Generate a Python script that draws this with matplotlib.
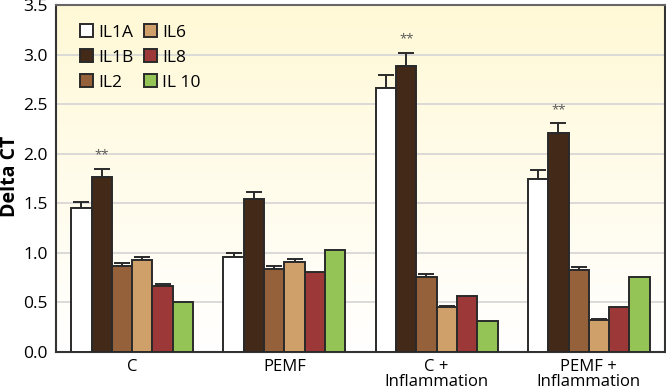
import numpy as np
import matplotlib.pyplot as plt

groups = ['C', 'PEMF', 'C +\nInflammation', 'PEMF +\nInflammation']
genes = ['IL1A', 'IL1B', 'IL2', 'IL6', 'IL8', 'IL 10']
colors = ['#FFFFFF', '#432918', '#94613A', '#CFA06A', '#9C3838', '#93C455']

# delta CT per gene, one value per group
il1a = [1.45, 0.96, 2.66, 1.75]
il1b = [1.77, 1.54, 2.88, 2.21]
il2 = [0.87, 0.84, 0.76, 0.83]
il6 = [0.93, 0.91, 0.45, 0.32]
il8 = [0.67, 0.81, 0.56, 0.45]
il10 = [0.50, 1.03, 0.31, 0.76]

il1a_err = [0.06, 0.04, 0.13, 0.09]
il1b_err = [0.08, 0.07, 0.14, 0.10]
il2_err = [0.03, 0.03, 0.03, 0.03]
il6_err = [0.03, 0.03, 0.01, 0.01]
il8_err = [0.02, 0.0, 0.0, 0.0]
il10_err = [0.0, 0.0, 0.0, 0.0]

# '**' marks on IL1B
signif = ['**', '', '**', '**']

values = [il1a, il1b, il2, il6, il8, il10]
errors = [il1a_err, il1b_err, il2_err, il6_err, il8_err, il10_err]

plt.rcParams['font.family'] = ['Open Sans', 'DejaVu Sans']

fig = plt.figure(figsize=(6.66, 3.92), dpi=100)
ax = fig.add_axes([56 / 666, 40 / 392, 609 / 666, 347 / 392])

x = np.arange(len(groups))
width = 0.8 / len(genes)

# yellow-to-white background gradient
grad = np.linspace(0, 1, 256).reshape(-1, 1)
top = np.array([1.0, 0.976, 0.84])
bot = np.array([1.0, 1.0, 1.0])
img = top * grad + bot * (1 - grad)
ax.imshow(img[:, None, :].repeat(2, axis=1), extent=[-0.5, 3.5, 0, 3.5],
          aspect='auto', origin='lower', zorder=0)

for v in np.arange(0.5, 3.5, 0.5):
    ax.axhline(v, color='#D4D4D4', lw=1.2, zorder=1)

for i, (gene, vals, errs) in enumerate(zip(genes, values, errors)):
    pos = x - 0.4 + width * (i + 0.5)
    ax.bar(pos, vals, width, color=colors[i], edgecolor='#2A2A2A', lw=1.4,
           label=gene, zorder=3)
    for p, v, e in zip(pos, vals, errs):
        if e > 0:
            ax.errorbar(p, v, yerr=[[0], [e]], color='#2A2A2A', capsize=5.5,
                        elinewidth=1.4, capthick=1.4, zorder=2)
    if gene == 'IL1B':
        for p, v, e, s in zip(pos, vals, errs, signif):
            if s:
                ax.text(p, v + e + 0.07, s, ha='center', va='bottom',
                        fontsize=9.5, color='#555555')

ax.set_xlim(-0.5, 3.5)
ax.set_ylim(0, 3.5)
ax.set_xticks(x)
ax.set_xticklabels(groups, fontsize=12, linespacing=0.95)
ax.set_yticks(np.arange(0, 3.51, 0.5))
ax.set_yticklabels(['%.1f' % t for t in np.arange(0, 3.51, 0.5)], fontsize=12.5)
ax.tick_params(axis='y', length=0, pad=6)
ax.tick_params(axis='x', length=0, pad=5)
fig.text(10 / 666, 1 - 176 / 392, 'Delta CT', rotation=90, ha='center',
         va='center', fontsize=14, fontweight='bold')

for side in ['left', 'bottom', 'right']:
    ax.spines[side].set_color('#333333')
    ax.spines[side].set_linewidth(1.5)
ax.spines['top'].set_color('#666666')
ax.spines['top'].set_linewidth(1.5)

ax.legend(loc='upper left', ncol=2, frameon=False, fontsize=12.5,
          handlelength=0.75, handleheight=0.75, handletextpad=0.3,
          columnspacing=0.6, labelspacing=0.5, borderaxespad=0,
          bbox_to_anchor=(0.028, 0.965))

fig.savefig('out.png', dpi=100)
